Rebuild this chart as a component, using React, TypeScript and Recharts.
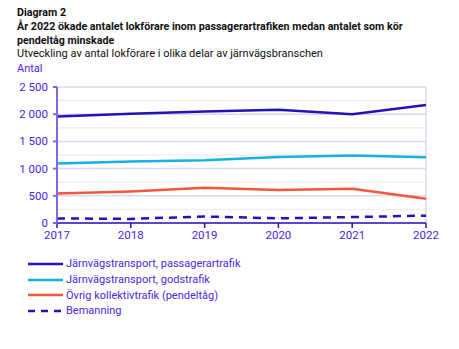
import { LineChart, Line, XAxis, YAxis, CartesianGrid, ReferenceLine } from 'recharts';

const years = ['2017', '2018', '2019', '2020', '2021', '2022'];
const passagerartrafik = [1960, 2010, 2050, 2080, 2000, 2170];
const godstrafik = [1095, 1130, 1155, 1215, 1240, 1210];
const pendeltag = [540, 580, 650, 605, 630, 445];
const bemanning = [85, 75, 120, 85, 110, 135];
const yTicks = [0, 500, 1000, 1500, 2000, 2500];
const minorTicks = [250, 750, 1250, 1750, 2250];

const series = [
  { key: 'pass', name: 'Järnvägstransport, passagerartrafik', values: passagerartrafik, color: '#2411b8', dash: undefined },
  { key: 'gods', name: 'Järnvägstransport, godstrafik', values: godstrafik, color: '#14b1e7', dash: undefined },
  { key: 'pendel', name: 'Övrig kollektivtrafik (pendeltåg)', values: pendeltag, color: '#f1573b', dash: undefined },
  { key: 'bem', name: 'Bemanning', values: bemanning, color: '#2411b8', dash: '8 6' },
];

const data = years.map((year, i) => {
  const row: Record<string, string | number> = { year };
  series.forEach(s => { row[s.key] = s.values[i]; });
  return row;
});

const fmt = (v: number) => (v >= 1000 ? `${Math.floor(v / 1000)} ${String(v % 1000).padStart(3, '0')}` : String(v));

const font = 'Roboto, "Noto Sans", sans-serif';

export default function App() {
  return (
    <div style={{ position: 'absolute', left: 0, top: 0, width: 459, height: 349, background: '#fff', fontFamily: font, overflow: 'hidden' }}>
      <div style={{ position: 'absolute', left: 17, top: 6, fontSize: 10.7, lineHeight: '13.8px', fontWeight: 700, color: '#111' }}>
        <div>Diagram 2</div>
        <div>År 2022 ökade antalet lokförare inom passagerartrafiken medan antalet som kör</div>
        <div>pendeltåg minskade</div>
      </div>
      <div style={{ position: 'absolute', left: 17, top: 47, fontSize: 11, color: '#111' }}>
        Utveckling av antal lokförare i olika delar av järnvägsbranschen
      </div>
      <div style={{ position: 'absolute', left: 17, top: 61.5, fontSize: 11, color: '#4a26e0' }}>Antal</div>

      <div style={{ position: 'absolute', left: 0, top: 0 }}>
        <LineChart width={459} height={349} data={data} margin={{ top: 87, right: 33, bottom: 106, left: 0 }}>
          <CartesianGrid vertical={false} stroke="#dcd7f2" strokeWidth={1.5} />
          {minorTicks.map(v => (
            <ReferenceLine key={v} y={v} stroke="#eeeef4" strokeWidth={1.5} />
          ))}
          <ReferenceLine x="2022" stroke="#dcd7f2" strokeWidth={1.5} />
          <XAxis
            dataKey="year"
            height={20}
            stroke="#2a12c0"
            strokeWidth={1.5}
            tickSize={5}
            tickMargin={3}
            tick={{ fill: '#4a26e0', fontSize: 11.5, fontFamily: font }}
            padding={{ left: 0, right: 0 }}
          />
          <YAxis
            width={57}
            domain={[0, 2500]}
            ticks={yTicks}
            interval={0}
            stroke="#7c6ce2"
            strokeWidth={2}
            tickSize={4}
            tickMargin={5}
            tickFormatter={fmt}
            tick={{ fill: '#4a26e0', fontSize: 11.5, fontFamily: font }}
          />
          {series.map(s => (
            <Line
              key={s.key}
              dataKey={s.key}
              name={s.name}
              stroke={s.color}
              strokeWidth={2.5}
              strokeDasharray={s.dash}
              dot={false}
              type="linear"
              isAnimationActive={false}
            />
          ))}
        </LineChart>
      </div>

      <div style={{ position: 'absolute', left: 28, top: 256, fontSize: 11, color: '#4a26e0' }}>
        {series.map(s => (
          <div key={s.key} style={{ display: 'flex', alignItems: 'center', height: 15.7 }}>
            <svg width={36} height={6} style={{ marginRight: 2 }}>
              <line x1={0} y1={3} x2={35} y2={3} stroke={s.color} strokeWidth={2.5} strokeDasharray={s.dash ? '7 6' : undefined} />
            </svg>
            <span>{s.name}</span>
          </div>
        ))}
      </div>
    </div>
  );
}
